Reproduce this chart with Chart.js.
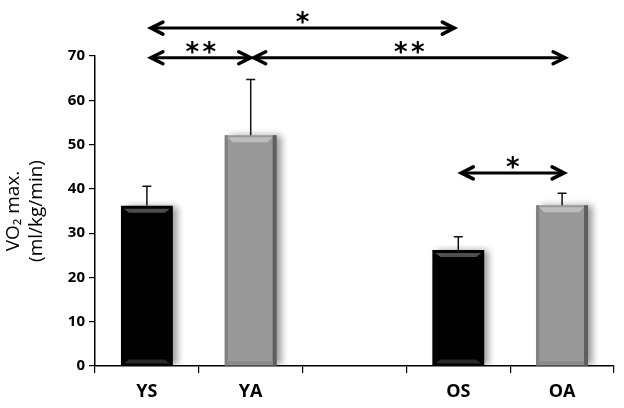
<!DOCTYPE html>
<html>
<head>
<meta charset="utf-8">
<script src="https://cdn.jsdelivr.net/npm/chart.js@4.4.1/dist/chart.umd.min.js"></script>
<style>
  body { margin: 0; background: #fff; }
  #wrap { width: 624px; height: 408px; }
</style>
</head>
<body>
<div id="wrap"><canvas id="vo2" width="624" height="408"></canvas></div>
<script>
// groups on the x axis (the blank one is the gap between young and old)
var groups = ["YS", "YA", "", "OS", "OA"];
var vo2Mean = [36.2, 52.1, null, 26.2, 36.3];
var vo2Err = [4.4, 12.6, null, 3.0, 2.7];
var barColors = ["#000000", "#999999", "#000000", "#000000", "#999999"];
var yTicks = [0, 10, 20, 30, 40, 50, 60, 70];

// significance arrows: from/to group, height in y units, number of stars, small pixel nudges
var sigArrows = [
  { from: "YS", to: "OS", level: 76.3, stars: 1, nudge: [4, -4] },
  { from: "YS", to: "YA", level: 69.6, stars: 2, nudge: [4, 0] },
  { from: "YA", to: "OA", level: 69.6, stars: 2, nudge: [3, 3] },
  { from: "OS", to: "OA", level: 43.6, stars: 1, nudge: [3, 2] }
];

var barShadow = {
  id: "barShadow",
  beforeDatasetDraw: function (chart) {
    var ctx = chart.ctx;
    ctx.save();
    ctx.shadowColor = "rgba(0,0,0,0.4)";
    ctx.shadowBlur = 7;
    ctx.shadowOffsetX = 5;
    ctx.shadowOffsetY = 0;
  },
  afterDatasetDraw: function (chart) {
    chart.ctx.restore();
  }
};

var bevelAndErrors = {
  id: "bevelAndErrors",
  afterDatasetsDraw: function (chart) {
    var ctx = chart.ctx;
    var y = chart.scales.y;
    var meta = chart.getDatasetMeta(0);
    meta.data.forEach(function (bar, i) {
      if (vo2Mean[i] == null) return;
      var w = bar.width, l = bar.x - w / 2, r = bar.x + w / 2, t = bar.y, b = bar.base;
      ctx.save();
      if (barColors[i] == "#000000") {
        // light band under the top edge and a faint one at the bottom
        ctx.fillStyle = "#4d4d4d";
        ctx.beginPath();
        ctx.moveTo(l + 3, t + 3); ctx.lineTo(r - 3, t + 3);
        ctx.lineTo(r - 8, t + 7); ctx.lineTo(l + 8, t + 7);
        ctx.closePath(); ctx.fill();
        ctx.fillStyle = "#2a2a2a";
        ctx.beginPath();
        ctx.moveTo(l + 8, b - 6); ctx.lineTo(r - 8, b - 6);
        ctx.lineTo(r - 3, b - 2); ctx.lineTo(l + 3, b - 2);
        ctx.closePath(); ctx.fill();
      } else {
        ctx.fillStyle = "#808080";
        ctx.fillRect(l, t, 3, b - t);
        ctx.fillStyle = "#5e5e5e";
        ctx.fillRect(r - 4, t, 4, b - t);
        ctx.fillStyle = "#bdbdbd";
        ctx.beginPath();
        ctx.moveTo(l + 3, t + 2); ctx.lineTo(r - 4, t + 2);
        ctx.lineTo(r - 9, t + 7); ctx.lineTo(l + 8, t + 7);
        ctx.closePath(); ctx.fill();
        ctx.fillStyle = "#8a8a8a";
        ctx.fillRect(l + 3, b - 4, w - 7, 3);
      }
      // upward error bar
      var yTop = y.getPixelForValue(vo2Mean[i] + vo2Err[i]);
      ctx.strokeStyle = "#111";
      ctx.lineWidth = 1.5;
      ctx.beginPath();
      ctx.moveTo(bar.x, t); ctx.lineTo(bar.x, yTop);
      ctx.moveTo(bar.x - 4.5, yTop); ctx.lineTo(bar.x + 4.5, yTop);
      ctx.stroke();
      ctx.restore();
    });
  }
};

function arrowHead(ctx, x, y, dir) {
  ctx.beginPath();
  ctx.moveTo(x - dir * 12, y - 6);
  ctx.lineTo(x, y);
  ctx.lineTo(x - dir * 12, y + 6);
  ctx.stroke();
}

var sigPlugin = {
  id: "sigPlugin",
  afterDraw: function (chart) {
    var ctx = chart.ctx;
    var xs = chart.scales.x, ys = chart.scales.y;
    ctx.save();
    sigArrows.forEach(function (a) {
      var x1 = xs.getPixelForValue(groups.indexOf(a.from)) + a.nudge[0];
      var x2 = xs.getPixelForValue(groups.indexOf(a.to)) + a.nudge[1];
      var yy = ys.getPixelForValue(a.level);
      ctx.strokeStyle = "#000";
      ctx.lineCap = "round";
      ctx.lineJoin = "miter";
      ctx.lineWidth = 3;
      ctx.beginPath();
      ctx.moveTo(x1 + 2, yy); ctx.lineTo(x2 - 2, yy);
      ctx.stroke();
      ctx.lineWidth = 3.5;
      arrowHead(ctx, x1, yy, -1);
      arrowHead(ctx, x2, yy, 1);
      ctx.fillStyle = "#000";
      ctx.font = "bold 26px 'DejaVu Sans'";
      ctx.textAlign = "center";
      ctx.textBaseline = "alphabetic";
      var mid = (x1 + x2) / 2;
      for (var s = 0; s < a.stars; s++) {
        var sx = mid + (s - (a.stars - 1) / 2) * 17;
        ctx.fillText("*", sx, yy + 3);
      }
    });
    ctx.restore();
  }
};

new Chart(document.getElementById("vo2"), {
  type: "bar",
  data: {
    labels: groups,
    datasets: [{
      data: vo2Mean,
      backgroundColor: barColors,
      borderWidth: 0,
      barPercentage: 0.5,
      categoryPercentage: 1.0
    }]
  },
  options: {
    responsive: false,
    animation: false,
    layout: { padding: { top: 56, right: 10, left: 0, bottom: 0 } },
    plugins: { legend: { display: false }, tooltip: { enabled: false } },
    scales: {
      x: {
        grid: { offset: true, drawOnChartArea: false, color: "#000", tickLength: 7, lineWidth: 1.2 },
        border: { color: "#000", width: 1.5 },
        ticks: { color: "#000", font: { family: "Open Sans", size: 18, weight: "bold" }, padding: 8 },
        afterFit: function (s) { s.height = 42; }
      },
      y: {
        min: 0,
        max: 70,
        afterBuildTicks: function (s) { s.ticks = yTicks.map(function (v) { return { value: v }; }); },
        grid: { drawOnChartArea: false, color: "#000", tickLength: 6, lineWidth: 1.2 },
        border: { color: "#000", width: 1.5 },
        ticks: { color: "#000", font: { family: "Open Sans", size: 15, weight: "bold" }, padding: 4 },
        title: {
          display: true,
          text: ["VO\u2082 max.", "(ml/kg/min)"],
          color: "#000",
          font: { family: "Open Sans, DejaVu Sans", size: 19 },
          lineHeight: 1.2,
          padding: { top: 2, bottom: 0 }
        },
        afterFit: function (s) { s.width = 95; }
      }
    }
  },
  plugins: [barShadow, bevelAndErrors, sigPlugin]
});
</script>
</body>
</html>
